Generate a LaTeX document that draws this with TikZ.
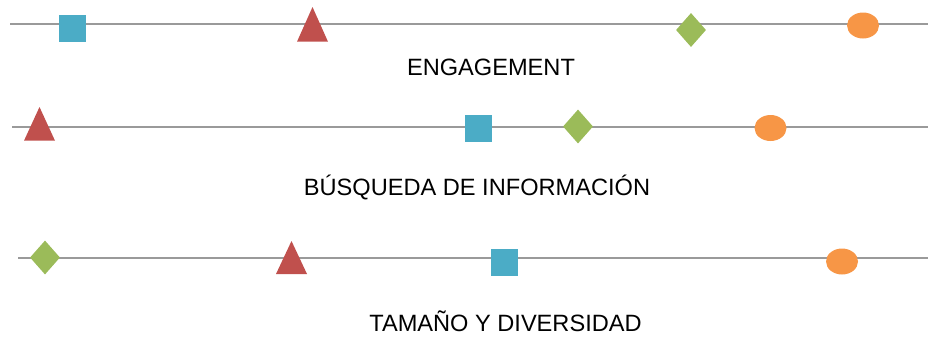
\documentclass[tikz,border=0pt]{standalone}
\usepackage{fontspec}
\setmainfont{Liberation Sans}
\usetikzlibrary{shapes.geometric}
\definecolor{sqc}{HTML}{4BACC6}
\definecolor{trc}{HTML}{C0504D}
\definecolor{dic}{HTML}{9BBB59}
\definecolor{elc}{HTML}{F79646}
\definecolor{axc}{HTML}{9A9A9A}
\begin{document}
\begin{tikzpicture}[x=1pt,y=-1pt,
  axis/.style={draw=axc,line width=1.6pt},
  sq/.style={rectangle,fill=sqc,minimum width=27pt,minimum height=27pt,inner sep=0pt},
  dm/.style={diamond,fill=dic,minimum width=30pt,minimum height=34pt,inner sep=0pt},
  el/.style={ellipse,fill=elc,minimum width=32pt,minimum height=26pt,inner sep=0pt},
  tr/.style={fill=trc},
  lbl/.style={anchor=base,inner sep=0pt,font=\fontsize{23.6pt}{28pt}\selectfont}]
\useasboundingbox (0,0) rectangle (928,338);
% axes
\coordinate (a1) at (10,24);  \coordinate (b1) at (928,24);
\coordinate (a2) at (12,127); \coordinate (b2) at (928,127);
\coordinate (a3) at (18,258); \coordinate (b3) at (928,258);
\draw[axis] (a1) -- (b1);
\draw[axis] (a2) -- (b2);
\draw[axis] (a3) -- (b3);
% row 1
\node[sq] (s1) at (72.5,28.5) {};
\coordinate (t1) at (312.5,7);
\fill[tr] (t1) -- ++(15.5,34.7) -- ++(-31,0) -- cycle;
\node[dm] (d1) at (691,30) {};
\node[el] (e1) at (863,25.5) {};
\node[lbl] (l1) at (491,75) {ENGAGEMENT};
% row 2
\coordinate (t2) at (39.5,107);
\fill[tr] (t2) -- ++(15.5,33.7) -- ++(-31,0) -- cycle;
\node[sq] (s2) at (478.5,128.5) {};
\node[dm] (d2) at (578,126.5) {};
\node[el] (e2) at (770.5,128) {};
\node[lbl] (l2) at (477,195) {BÚSQUEDA DE INFORMACIÓN};
% row 3
\node[dm] (d3) at (45,257.5) {};
\coordinate (t3) at (291.5,241);
\fill[tr] (t3) -- ++(15.5,33) -- ++(-31,0) -- cycle;
\node[sq] (s3) at (504.5,262.5) {};
\node[el] (e3) at (842,261.5) {};
\node[lbl] (l3) at (505.5,331) {TAMAÑO Y DIVERSIDAD};
\end{tikzpicture}
\end{document}
